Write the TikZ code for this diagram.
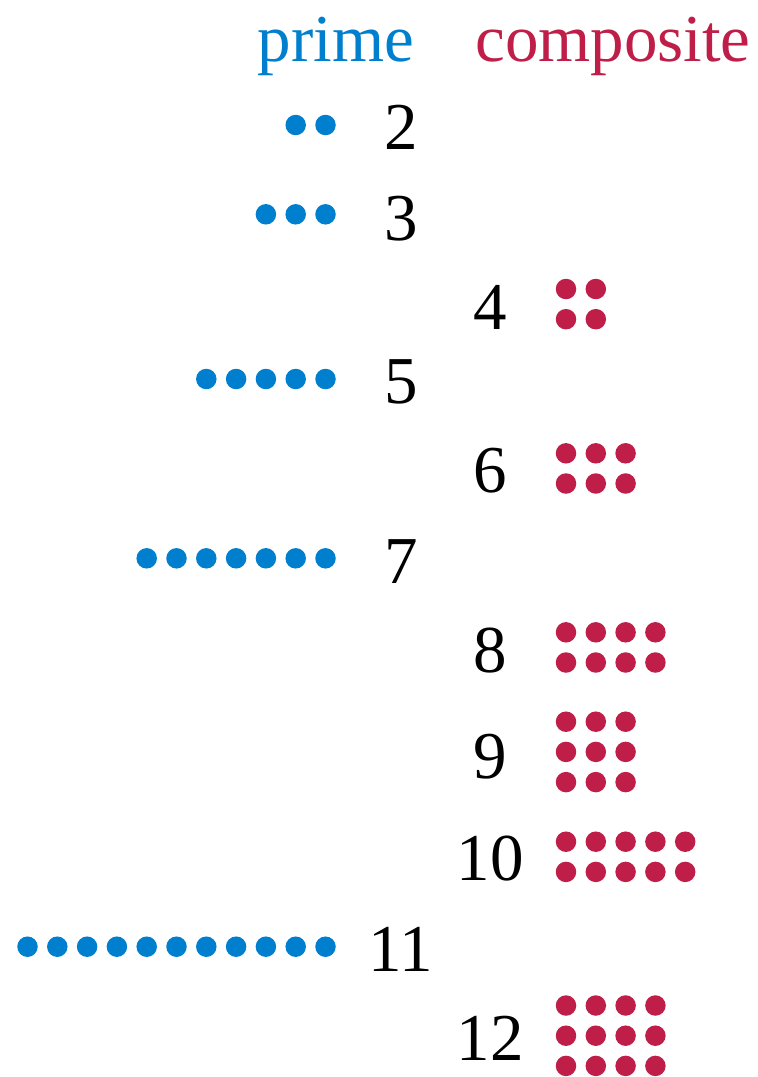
\documentclass[tikz,border=0pt]{standalone}
\usepackage{fontspec}
\setmainfont{Liberation Serif}
\definecolor{primeblue}{RGB}{0,127,206}
\definecolor{compred}{RGB}{190,30,72}
\begin{document}
\begin{tikzpicture}[x=1pt,y=-1pt,
  pdot/.style={circle,fill=primeblue,inner sep=0pt,minimum size=20.5pt},
  cdot/.style={circle,fill=compred,inner sep=0pt,minimum size=20.5pt},
  numlbl/.style={anchor=base,inner sep=0pt,font=\fontsize{67}{80}\selectfont},
  headlbl/.style={anchor=base,inner sep=0pt,font=\fontsize{67}{80}\selectfont}]
\useasboundingbox (0,0) rectangle (758,1077);
% headers
\node[headlbl,text=primeblue] (hprime) at (336,61) {prime};
\node[headlbl,text=compred] (hcomp) at (613,61) {composite};
% prime numbers: number, baseline, dot row y, count
\foreach \n/\b/\dy in {2/149/125, 3/240/214.3, 5/403/379, 7/583/558.3, 11/971.5/946.7}{
  \node[numlbl] (n\n) at (401,\b) {\n};
  \foreach \k in {1,...,\n}{
    \node[pdot] (p\n-\k) at ({325.5-29.8*(\k-1)},\dy) {};
  }
}
% composite numbers: number, baseline, first row y, rows, cols
\foreach \n/\b/\dy/\r/\c in {4/329/289/2/2, 6/492.5/453.3/2/3, 8/672.5/632.3/2/4, 9/778/721.7/3/3, 10/880.5/841.7/2/5, 12/1060.5/1005.5/3/4}{
  \node[numlbl] (n\n) at (490,\b) {\n};
  \foreach \i in {1,...,\r}{
    \foreach \j in {1,...,\c}{
      \node[cdot] (c\n-\i-\j) at ({566+29.8*(\j-1)},{\dy+30.2*(\i-1)}) {};
    }
  }
}
\end{tikzpicture}
\end{document}
